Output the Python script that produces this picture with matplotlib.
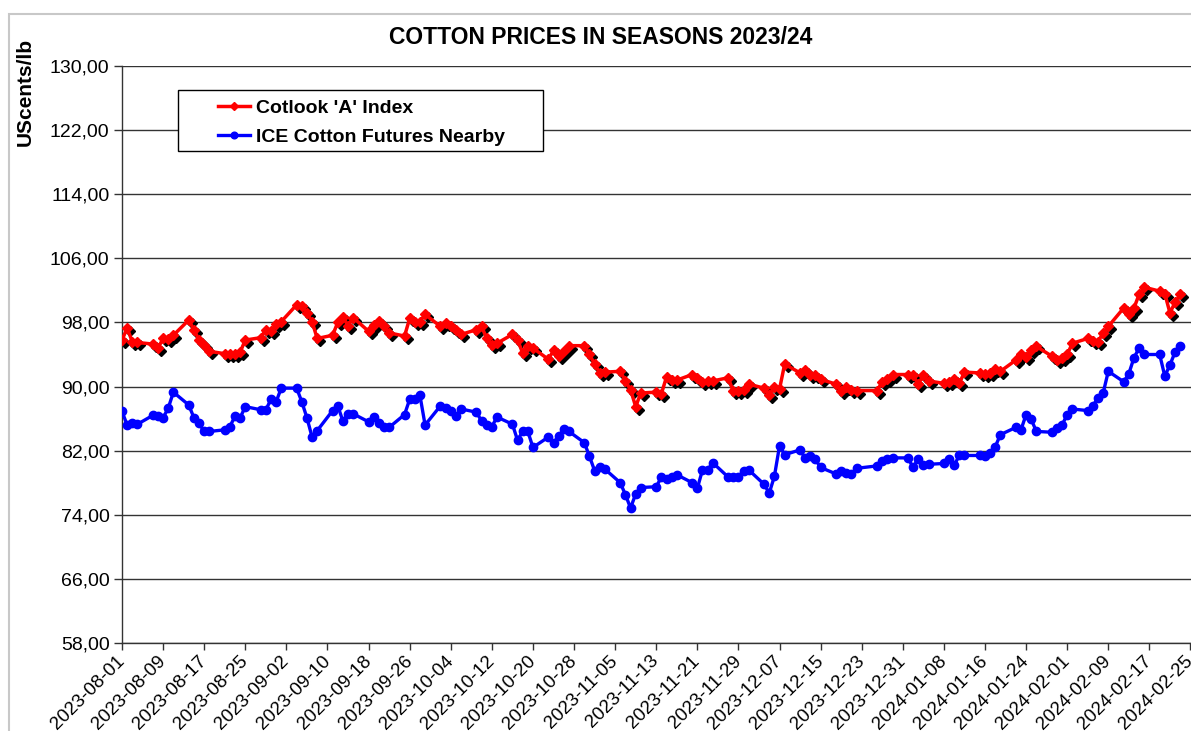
"""Cotton prices 2023/24: Cotlook 'A' Index vs ICE nearby futures."""

import matplotlib

matplotlib.use("Agg")

import matplotlib.dates as mdates
import matplotlib.pyplot as plt
import matplotlib.transforms as mtransforms
import pandas as pd
from matplotlib.patches import Rectangle
from matplotlib.ticker import FuncFormatter

plt.rcParams["font.family"] = ["Liberation Sans", "DejaVu Sans"]

W, H = 1191, 731

# trading days, Christmas closed
DATES = pd.bdate_range("2023-08-01", "2024-02-23", freq="C", holidays=["2023-12-25"])

COTLOOK = (
    # Aug
    [95.8, 97.3, 95.6, 95.5, 95.3, 94.8, 96.0, 95.9, 96.4, 98.3, 97.1, 95.8,
     95.2, 94.4, 94.1, 94.0, 94.1, 94.3, 95.8, 96.1, 97.1, 96.9, 97.8]
    # Sep
    + [98.1, 100.2, 100.0, 99.2, 98.1, 96.0, 96.4, 98.0, 98.7, 97.6, 98.6,
       96.9, 97.7, 98.2, 97.5, 96.7, 96.3, 98.5, 98.1, 98.1, 99.0]
    # Oct
    + [97.5, 97.9, 97.5, 97.1, 96.5, 97.1, 97.5, 96.0, 95.2, 95.4, 96.5,
       95.8, 94.2, 95.0, 94.8, 93.4, 94.5, 93.8, 94.4, 95.1, 95.1, 94.0]
    # Nov
    + [92.8, 91.7, 91.8, 91.9, 90.7, 89.6, 87.5, 89.2, 89.3, 89.1, 91.2,
       90.8, 90.8, 91.5, 91.1, 90.6, 90.7, 90.7, 91.1, 89.4, 89.4, 89.6]
    # Dec
    + [90.3, 89.8, 89.0, 89.9, 89.7, 92.8, 91.7, 92.1, 91.5, 91.4, 90.9,
       90.3, 89.4, 89.9, 89.6, 89.5, 89.5, 90.6, 91.0, 91.5]
    # Jan
    + [91.5, 91.4, 90.3, 91.4, 90.7, 90.4, 90.6, 91.0, 90.4, 91.8, 91.7,
       91.6, 91.7, 92.2, 91.9, 93.3, 94.0, 93.7, 94.6, 95.0, 93.8, 93.3, 93.6]
    # Feb
    + [94.0, 95.4, 96.0, 95.7, 95.6, 96.7, 97.5, 99.8, 99.0, 99.8, 101.5,
       102.4, 101.9, 101.6, 99.2, 100.5, 101.5]
)

ICE_NEARBY = (
    [86.9, 85.2, 85.4, 85.3, 86.4, 86.3, 86.1, 87.3, 89.3, 87.7, 86.1, 85.4,
     84.4, 84.4, 84.6, 85.0, 86.3, 86.1, 87.5, 87.1, 87.1, 88.4, 88.1]
    + [89.8, 89.8, 88.1, 86.1, 83.7, 84.5, 87.0, 87.6, 85.7, 86.6, 86.6,
       85.6, 86.2, 85.5, 84.9, 84.9, 86.5, 88.4, 88.5, 88.9, 85.2]
    + [87.6, 87.3, 86.9, 86.3, 87.2, 86.8, 85.7, 85.2, 85.0, 86.2, 85.3,
       83.3, 84.4, 84.4, 82.4, 83.7, 83.0, 83.8, 84.7, 84.4, 83.0, 81.3]
    + [79.5, 79.9, 79.7, 78.0, 76.5, 74.85, 76.6, 77.4, 77.5, 78.7, 78.5,
       78.7, 79.0, 78.0, 77.3, 79.6, 79.6, 80.5, 78.7, 78.7, 78.7, 79.5]
    + [79.6, 77.8, 76.7, 78.8, 82.6, 81.5, 82.1, 81.05, 81.3, 80.9, 79.9,
       79.1, 79.5, 79.2, 79.1, 79.8, 80.1, 80.7, 81.0, 81.1]
    + [81.1, 79.9, 81.0, 80.2, 80.3, 80.4, 80.9, 80.2, 81.4, 81.4, 81.4,
       81.3, 81.7, 82.5, 84.0, 84.9, 84.6, 86.5, 85.9, 84.4, 84.3, 84.8, 85.2]
    + [86.5, 87.2, 87.0, 87.6, 88.6, 89.2, 91.9, 90.6, 91.6, 93.6, 94.8,
       94.0, 94.0, 91.3, 92.7, 94.3, 95.0]
)

Y_TICKS = [58, 66, 74, 82, 90, 98, 106, 114, 122, 130]
LABELS = ["Cotlook 'A' Index", "ICE Cotton Futures Nearby"]
TITLE = "COTTON PRICES IN SEASONS 2023/24"
Y_LABEL = "UScents/lb"


def main() -> None:
    fig = plt.figure(figsize=(W / 100, H / 100), dpi=100)
    ax = fig.add_axes([122 / W, 1 - 643 / H, 1 - 122 / W, (643 - 66) / H])

    start = pd.Timestamp("2023-08-01")
    ax.set_xlim(start, start + pd.Timedelta(days=208.1))
    ax.set_ylim(58, 130)

    # black marker shadow under the red series
    shadow = mtransforms.offset_copy(ax.transData, fig=fig, x=3, y=-3, units="dots")
    ax.plot(DATES, COTLOOK, ls="none", marker="D", ms=5, color="black",
            mec="black", transform=shadow, zorder=2)
    ax.plot(DATES, COTLOOK, color="#ff0000", lw=2.5, marker="D", ms=5,
            mec="#ff0000", label=LABELS[0], zorder=3)
    ax.plot(DATES, ICE_NEARBY, color="#0000ff", lw=2.4, marker="o", ms=6,
            mec="#0000ff", label=LABELS[1], zorder=3)

    ax.set_yticks(Y_TICKS)
    ax.yaxis.set_major_formatter(FuncFormatter(lambda v, _: f"{v:.2f}".replace(".", ",")))
    ax.grid(axis="y", color="#333333", lw=1.0)
    ax.set_axisbelow(True)

    ticks = pd.date_range("2023-08-01", "2024-02-25", freq="8D")
    ax.set_xticks(ticks)
    ax.xaxis.set_major_formatter(mdates.DateFormatter("%Y-%m-%d"))
    ax.tick_params(axis="x", length=5, width=1, color="#333333", labelsize=13.5, pad=6)
    ax.tick_params(axis="y", length=6, width=1, color="#333333", labelsize=14, pad=3)
    for lab in ax.get_xticklabels():
        lab.set_rotation(45)
        lab.set_ha("right")
        lab.set_va("center")
        lab.set_rotation_mode("anchor")

    for side in ("top", "right"):
        ax.spines[side].set_visible(False)
    for side in ("left", "bottom"):
        ax.spines[side].set_color("#333333")
        ax.spines[side].set_linewidth(1.0)

    leg = ax.legend(loc="upper left", bbox_to_anchor=(218 / W, 1 - 99 / H),
                    bbox_transform=fig.transFigure, frameon=False, borderpad=0,
                    borderaxespad=0, handlelength=1.65, handletextpad=0.3,
                    labelspacing=0.62, prop={"weight": "bold", "size": 14},
                    markerscale=0.8)
    leg.set_zorder(6)
    ax.add_patch(Rectangle((178 / W, 1 - 151 / H), 365 / W, 61 / H,
                           transform=fig.transFigure, clip_on=False, fill=True,
                           fc="white", ec="black", lw=1.0, zorder=5))

    # light chart border
    fig.patches.append(Rectangle((9 / W, -0.05), 1.2, 1 - 14 / H + 0.05,
                                 transform=fig.transFigure, fill=False,
                                 ec="#c8c8c8", lw=1.5))

    fig.text(601 / W, 1 - 37 / H, TITLE, ha="center", va="center",
             fontsize=16.5, weight="bold")
    fig.text(25 / W, 1 - 92 / H, Y_LABEL, rotation=90, ha="center", va="center",
             fontsize=15, weight="bold")

    fig.savefig("out.png", dpi=100)
    plt.close(fig)


if __name__ == "__main__":
    main()
